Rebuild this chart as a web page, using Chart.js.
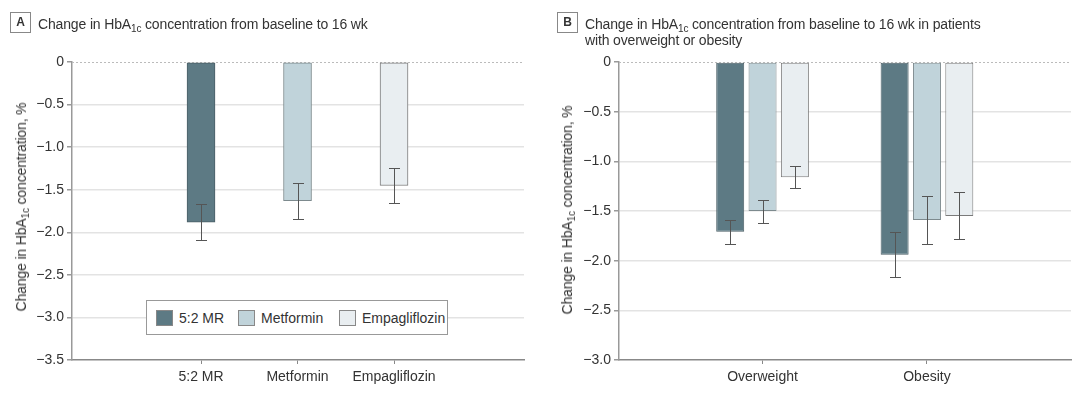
<!DOCTYPE html>
<html>
<head>
<meta charset="utf-8">
<script src="https://cdn.jsdelivr.net/npm/chart.js@4.4.0/dist/chart.umd.min.js"></script>
<style>
body { margin:0; background:#fff; font-family:"Liberation Sans",Arial,sans-serif; color:#333; }
#wrap { position:relative; width:1080px; height:395px; overflow:hidden; }
canvas { position:absolute; top:0; }
.tag { position:absolute; top:12px; width:19px; height:19px; border:1px solid #888; font-weight:bold; font-size:12px; line-height:19px; text-align:center; }
.title { position:absolute; top:16px; font-size:14px; line-height:16px; letter-spacing:-0.15px; white-space:nowrap; }
sub { font-size:10px; vertical-align:-3px; line-height:0; }
.ytitle { position:absolute; white-space:nowrap; font-size:14px; line-height:16px; letter-spacing:-0.15px; transform:translate(-50%,-50%) rotate(-90deg); }
#legend { position:absolute; left:146px; top:300px; width:300px; height:33px; border:1px solid #999; background:#fff; font-size:14px; }
#legend .item { position:absolute; top:8px; height:17px; display:flex; align-items:center; white-space:nowrap; }
#legend .sw { width:15px; height:14px; border:1px solid #888; margin-right:6px; }
</style>
</head>
<body>
<div id="wrap">
  <canvas id="chartA" width="540" height="395" style="left:0"></canvas>
  <canvas id="chartB" width="540" height="395" style="left:540px"></canvas>
  <div class="tag" style="left:10px">A</div>
  <div class="title" style="left:38px">Change in HbA<sub>1c</sub> concentration from baseline to 16 wk</div>
  <div class="tag" style="left:557px">B</div>
  <div class="title" style="left:585px">Change in HbA<sub>1c</sub> concentration from baseline to 16 wk in patients<br>with overweight or obesity</div>
  <div class="ytitle" style="left:21px;top:207px">Change in HbA<sub>1c</sub> concentration, %</div>
  <div class="ytitle" style="left:567px;top:210px">Change in HbA<sub>1c</sub> concentration, %</div>
  <div id="legend"></div>
</div>
<script>
// treatments and colours
const treatments = ["5:2 MR", "Metformin", "Empagliflozin"]
const fills = ["#5d7a84", "#c0d3da", "#e9eef1"]
const edges = ["#4b5f66", "#7d8a8e", "#7a7a7a"]

// panel A: mean change and 95% CI
const meanA = [-1.88, -1.63, -1.45]
const lowA = [-2.09, -1.84, -1.66]
const highA = [-1.67, -1.42, -1.24]

// panel B: subgroups (one row per treatment)
const groupsB = ["Overweight", "Obesity"]
const meanB = [[-1.71, -1.94], [-1.50, -1.59], [-1.16, -1.55]]
const lowB = [[-1.83, -2.16], [-1.62, -1.83], [-1.27, -1.78]]
const highB = [[-1.59, -1.71], [-1.39, -1.35], [-1.05, -1.31]]

const yTicksA = { min: -3.5, max: 0 }
const yTicksB = { min: -3.0, max: 0 }

const fontTick = { family: "'Liberation Sans', Arial, sans-serif", size: 14 }

function fmt(v){
    if (v === 0) return "0"
    return "\u2212" + Math.abs(v).toFixed(1)
}

const errorBars = {
    id: "errorBars",
    afterDatasetsDraw(chart){
        const ctx = chart.ctx
        const y = chart.scales.y
        chart.data.datasets.forEach(function(ds, i){
            const meta = chart.getDatasetMeta(i)
            meta.data.forEach(function(bar, j){
                const x = Math.round(bar.x) + 0.5
                const lo = Math.round(y.getPixelForValue(ds.low[j])) + 0.5
                const hi = Math.round(y.getPixelForValue(ds.high[j])) + 0.5
                ctx.save()
                ctx.strokeStyle = "#555"
                ctx.lineWidth = 1
                ctx.beginPath()
                ctx.moveTo(x, lo); ctx.lineTo(x, hi)
                ctx.moveTo(x - 5.5, lo); ctx.lineTo(x + 5.5, lo)
                ctx.moveTo(x - 5.5, hi); ctx.lineTo(x + 5.5, hi)
                ctx.stroke()
                ctx.restore()
            })
        })
    }
}

const zeroLine = {
    id: "zeroLine",
    beforeDatasetsDraw(chart){
        const ctx = chart.ctx
        const a = chart.chartArea
        const y0 = Math.round(chart.scales.y.getPixelForValue(0)) + 0.5
        ctx.save()
        ctx.strokeStyle = "#bbb"
        ctx.lineWidth = 1
        ctx.setLineDash([2, 2])
        ctx.beginPath()
        ctx.moveTo(a.left, y0); ctx.lineTo(a.right, y0)
        ctx.stroke()
        ctx.restore()
    }
}

function yScale(lim, width){
    return {
        min: lim.min, max: lim.max,
        afterFit: function(s){ s.width = width },
        ticks: { stepSize: 0.5, color: "#333", font: fontTick, padding: 3, callback: fmt },
        grid: {
            color: function(c){ return (c.tick.value === 0 || c.tick.value === lim.min) ? "rgba(0,0,0,0)" : "#e3e3e3" },
            lineWidth: 1.5,
            tickColor: "#999",
            tickLength: 5
        },
        border: { color: "#999", width: 1.5 }
    }
}

function xScale(labels, min, max){
    return {
        type: "linear", min: min, max: max, offset: false,
        afterBuildTicks: function(s){ s.ticks = labels.map(function(_, i){ return { value: i } }) },
        afterFit: function(s){ s.height = 35 },
        ticks: { color: "#333", font: fontTick, padding: 5, maxRotation: 0, autoSkip: false, callback: function(v){ return labels[v] } },
        grid: { offset: false, drawOnChartArea: false, tickColor: "#888", tickLength: 4 },
        border: { color: "#888", width: 1.5 }
    }
}

function crearGraficos(){
    const dsA = treatments.map(function(t, i){
        return {
            label: t,
            data: [{ x: i, y: meanA[i] }],
            low: [lowA[i]], high: [highA[i]],
            backgroundColor: fills[i], borderColor: edges[i],
            borderWidth: 1, borderSkipped: false,
            barThickness: 28, grouped: false
        }
    })
    new Chart(document.getElementById("chartA").getContext("2d"), {
        type: "bar",
        data: { datasets: dsA },
        options: {
            responsive: false, maintainAspectRatio: false, animation: false,
            layout: { padding: { top: 62, right: 16, left: 0, bottom: 0 } },
            scales: { x: xScale(treatments, -1.337, 3.347), y: yScale(yTicksA, 72) },
            plugins: { legend: { display: false }, tooltip: { enabled: false } }
        },
        plugins: [zeroLine, errorBars]
    })

    const dsB = treatments.map(function(t, i){
        return {
            label: t,
            data: groupsB.map(function(g, j){ return { x: j, y: meanB[i][j] } }),
            low: lowB[i], high: highB[i],
            backgroundColor: fills[i], borderColor: edges[i],
            borderWidth: 1, borderSkipped: false,
            categoryPercentage: 0.59, barPercentage: 0.866
        }
    })
    new Chart(document.getElementById("chartB").getContext("2d"), {
        type: "bar",
        data: { datasets: dsB },
        options: {
            responsive: false, maintainAspectRatio: false, animation: false,
            layout: { padding: { top: 62, right: 9, left: 0, bottom: 0 } },
            scales: { x: xScale(groupsB, -0.873, 1.876), y: yScale(yTicksB, 79) },
            plugins: { legend: { display: false }, tooltip: { enabled: false } }
        },
        plugins: [zeroLine, errorBars]
    })

    // legend for panel A
    const leg = document.getElementById("legend")
    const legLeft = [9, 91, 192]
    treatments.forEach(function(t, i){
        const it = document.createElement("div")
        it.className = "item"
        it.style.left = legLeft[i] + "px"
        it.innerHTML = '<div class="sw" style="background:' + fills[i] + '"></div><span>' + t + '</span>'
        leg.appendChild(it)
    })
}
document.addEventListener("DOMContentLoaded", crearGraficos)
</script>
</body>
</html>
